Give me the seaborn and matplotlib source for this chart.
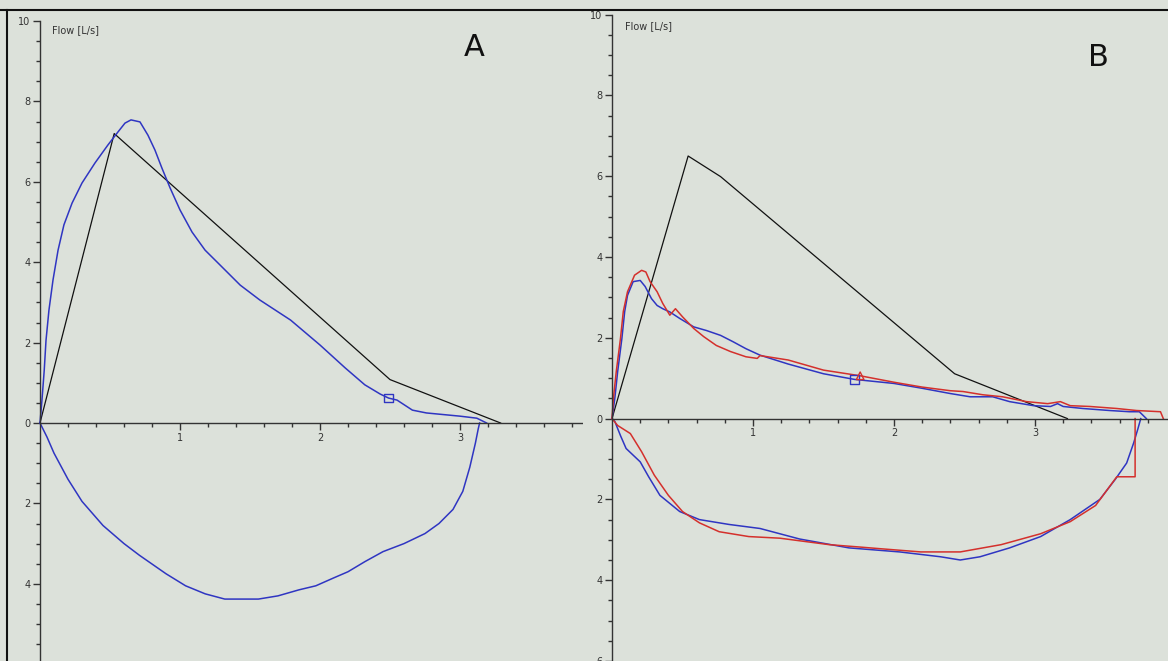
import matplotlib
matplotlib.use("Agg")
import matplotlib.pyplot as plt
import seaborn as sns
import numpy as np
from matplotlib.lines import Line2D
from matplotlib.ticker import MultipleLocator, FuncFormatter, FixedLocator

# ---------------- data ----------------
# Panel A
a_pred_x = [0.0, 0.53, 2.50, 3.29]
a_pred_y = [0.0, 7.20, 1.08, 0.0]

a_exp_x = [0.0, 0.014, 0.03, 0.043, 0.064, 0.093, 0.129, 0.171, 0.229, 0.30, 0.393, 0.486,
           0.557, 0.607, 0.65, 0.714, 0.771, 0.821, 0.871, 0.929, 1.0, 1.086, 1.179, 1.286,
           1.43, 1.57, 1.79, 2.0, 2.18, 2.32, 2.43, 2.49, 2.55, 2.66, 2.76, 3.0, 3.12, 3.19]
a_exp_y = [0.0, 0.57, 1.3, 2.06, 2.81, 3.56, 4.3, 4.93, 5.47, 5.97, 6.47, 6.92,
           7.24, 7.46, 7.54, 7.49, 7.16, 6.79, 6.34, 5.85, 5.3, 4.75, 4.3, 3.93,
           3.43, 3.06, 2.56, 1.94, 1.37, 0.95, 0.72, 0.62, 0.57, 0.32, 0.25, 0.17, 0.12, 0.0]

a_insp_x = [0.0, 0.05, 0.10, 0.20, 0.30, 0.45, 0.60, 0.71, 0.90, 1.04, 1.18, 1.32, 1.45,
            1.56, 1.70, 1.85, 1.97, 2.10, 2.20, 2.32, 2.45, 2.60, 2.75, 2.85, 2.95, 3.02,
            3.07, 3.11, 3.13, 3.14]
a_insp_y = [0.0, -0.35, -0.75, -1.4, -1.95, -2.55, -3.0, -3.29, -3.75, -4.05, -4.25, -4.38,
            -4.38, -4.38, -4.3, -4.15, -4.05, -3.85, -3.7, -3.45, -3.2, -3.0, -2.75, -2.5,
            -2.15, -1.7, -1.1, -0.5, -0.15, 0.0]

a_mark_x = [2.49]
a_mark_y = [0.62]

# Panel B
b_pred_x = [0.0, 0.54, 0.77, 2.43, 3.23]
b_pred_y = [0.0, 6.50, 5.99, 1.11, 0.0]

b_blue_exp_x = [0.0, 0.02, 0.04, 0.07, 0.09, 0.11, 0.15, 0.20, 0.235, 0.28, 0.32, 0.36, 0.41,
                0.48, 0.58, 0.67, 0.77, 0.86, 0.95, 1.05, 1.25, 1.50, 1.72, 2.00, 2.20,
                2.40, 2.54, 2.70, 2.82, 2.99, 3.11, 3.16, 3.20, 3.34, 3.53, 3.67, 3.74, 3.79]
b_blue_exp_y = [0.0, 0.5, 1.16, 1.98, 2.65, 3.05, 3.39, 3.42, 3.27, 2.97, 2.80, 2.72, 2.64,
                2.48, 2.27, 2.18, 2.06, 1.90, 1.73, 1.57, 1.35, 1.11, 0.97, 0.87, 0.75,
                0.62, 0.54, 0.54, 0.42, 0.32, 0.30, 0.37, 0.30, 0.25, 0.20, 0.17, 0.17, 0.0]

b_red_exp_x = [0.0, 0.01, 0.03, 0.06, 0.08, 0.11, 0.16, 0.21, 0.24, 0.27, 0.32, 0.36, 0.41,
               0.45, 0.50, 0.58, 0.65, 0.74, 0.84, 0.95, 1.03, 1.05, 1.25, 1.50, 1.76,
               2.00, 2.20, 2.40, 2.49, 2.63, 2.77, 2.94, 3.09, 3.18, 3.25, 3.39, 3.58,
               3.72, 3.89, 3.91]
b_red_exp_y = [0.0, 0.5, 1.16, 1.98, 2.65, 3.14, 3.55, 3.67, 3.63, 3.39, 3.14, 2.85, 2.56,
               2.72, 2.52, 2.23, 2.03, 1.81, 1.66, 1.53, 1.49, 1.56, 1.45, 1.20, 1.06,
               0.90, 0.78, 0.69, 0.67, 0.59, 0.54, 0.42, 0.37, 0.42, 0.32, 0.30, 0.25,
               0.20, 0.17, 0.0]

b_blue_insp_x = [0.0, 0.02, 0.06, 0.10, 0.20, 0.26, 0.34, 0.48, 0.62, 0.83, 1.05, 1.33,
                 1.68, 2.04, 2.33, 2.47, 2.61, 2.82, 3.04, 3.25, 3.46, 3.57, 3.65, 3.70,
                 3.73, 3.75]
b_blue_insp_y = [0.0, -0.07, -0.42, -0.74, -1.07, -1.44, -1.9, -2.3, -2.5, -2.62, -2.72,
                 -2.98, -3.2, -3.3, -3.42, -3.5, -3.42, -3.2, -2.92, -2.5, -2.0, -1.5,
                 -1.1, -0.6, -0.25, 0.0]

b_red_insp_x = [0.0, 0.04, 0.13, 0.21, 0.30, 0.40, 0.50, 0.62, 0.76, 0.97, 1.19, 1.54,
                1.76, 1.90, 2.19, 2.47, 2.76, 3.04, 3.25, 3.43, 3.58, 3.71, 3.71]
b_red_insp_y = [0.0, -0.17, -0.37, -0.82, -1.4, -1.9, -2.3, -2.58, -2.8, -2.92, -2.96,
                -3.12, -3.18, -3.22, -3.3, -3.3, -3.12, -2.85, -2.55, -2.15, -1.44, -1.44, 0.0]

b_blue_mark_x = [1.72]
b_blue_mark_y = [0.97]
b_red_mark_x = [1.76]
b_red_mark_y = [1.06]

a_y_ticks = [-4, -2, 0, 2, 4, 6, 8, 10]
b_y_ticks = [-6, -4, -2, 0, 2, 4, 6, 8, 10]
x_tick_values = [1, 2, 3]
axis_label = "Flow [L/s]"
panel_letters = ["A", "B"]

# ---------------- style ----------------
BG = "#dce1da"
BLUE = "#2f35c2"
RED = "#d4302c"
BLACK = "#111111"

W, H = 1168, 661
fig = plt.figure(figsize=(W / 100, H / 100), dpi=100, facecolor=BG)


def make_axes(left_px, right_px, x0_px, xscale, ybottom, yscale, yticks, top_px=10):
    ax = fig.add_axes([left_px / W, 0, (right_px - left_px) / W, (H - top_px) / H])
    ax.set_facecolor(BG)
    ax.set_xlim(-(x0_px - left_px) / xscale, (right_px - x0_px) / xscale)
    ytop = ybottom + (H - top_px) / yscale
    ax.set_ylim(ybottom, ytop)
    for s in ["top", "right"]:
        ax.spines[s].set_visible(False)
    for s in ["left", "bottom"]:
        ax.spines[s].set_position(("data", 0))
        ax.spines[s].set_color("#333333")
        ax.spines[s].set_linewidth(1.0)
    ax.spines["bottom"].set_bounds(0, (right_px - x0_px) / xscale)
    ax.spines["left"].set_bounds(ybottom, 10)
    ax.set_yticks(yticks)
    ax.yaxis.set_minor_locator(MultipleLocator(0.5))
    ax.set_xticks(x_tick_values)
    ax.xaxis.set_minor_locator(FixedLocator(
        [v for v in np.arange(0.2, 4.0, 0.2) if abs(v - round(v)) > 1e-6]))
    ax.yaxis.set_major_formatter(FuncFormatter(lambda v, p: f"{abs(v):g}"))
    ax.xaxis.set_major_formatter(FuncFormatter(lambda v, p: f"{v:g}"))
    ax.tick_params(axis="both", which="major", direction="out", length=5, width=1,
                   color="#333333", labelsize=7, labelcolor="#333333", pad=2)
    ax.tick_params(axis="both", which="minor", direction="out", length=3, width=1,
                   color="#333333")
    return ax


axA = make_axes(7, 583, 40, 140.0, -238 / 40.2, 40.2, a_y_ticks)
axB = make_axes(583, 1168, 612, 141.0, -6.0, 40.4, b_y_ticks)

lw = 1.1
# Panel A
sns.lineplot(x=a_pred_x, y=a_pred_y, ax=axA, color=BLACK, lw=0.9, sort=False, estimator=None)
sns.lineplot(x=a_exp_x, y=a_exp_y, ax=axA, color=BLUE, lw=lw, sort=False, estimator=None)
sns.lineplot(x=a_insp_x, y=a_insp_y, ax=axA, color=BLUE, lw=lw, sort=False, estimator=None)
axA.scatter(a_mark_x, a_mark_y, marker="s", s=40, facecolors="none", edgecolors=BLUE,
            linewidths=1.0, zorder=5)

# Panel B
sns.lineplot(x=b_pred_x, y=b_pred_y, ax=axB, color=BLACK, lw=0.9, sort=False, estimator=None)
sns.lineplot(x=b_blue_exp_x, y=b_blue_exp_y, ax=axB, color=BLUE, lw=lw, sort=False, estimator=None)
sns.lineplot(x=b_red_exp_x, y=b_red_exp_y, ax=axB, color=RED, lw=lw, sort=False, estimator=None)
sns.lineplot(x=b_blue_insp_x, y=b_blue_insp_y, ax=axB, color=BLUE, lw=lw, sort=False, estimator=None)
sns.lineplot(x=b_red_insp_x, y=b_red_insp_y, ax=axB, color=RED, lw=lw, sort=False, estimator=None)
axB.scatter(b_blue_mark_x, b_blue_mark_y, marker="s", s=40, facecolors="none",
            edgecolors=BLUE, linewidths=1.0, zorder=5)
axB.scatter(b_red_mark_x, b_red_mark_y, marker="^", s=30, facecolors="none",
            edgecolors=RED, linewidths=1.0, zorder=5)

for ax in (axA, axB):
    ax.set_xlabel("")
    ax.set_ylabel("")
    if ax.get_legend():
        ax.get_legend().remove()

# axis labels and panel letters
axA.text(0.086, 9.78, axis_label, fontsize=7, color="#333333", va="center", ha="left")
axB.text(0.09, 9.72, axis_label, fontsize=7, color="#333333", va="center", ha="left")
axA.text(3.1, 9.35, panel_letters[0], fontsize=22, color="#111111", va="center", ha="center")
axB.text(3.45, 8.95, panel_letters[1], fontsize=22, color="#111111", va="center", ha="center")

# outer frame lines (top and left)
fig.add_artist(Line2D([0, 1], [1 - 10 / H, 1 - 10 / H], transform=fig.transFigure,
                      color="#111111", lw=1.5))
fig.add_artist(Line2D([7 / W, 7 / W], [0, 1 - 10 / H], transform=fig.transFigure,
                      color="#111111", lw=1.5))

fig.savefig("out.png", dpi=100, facecolor=BG)
